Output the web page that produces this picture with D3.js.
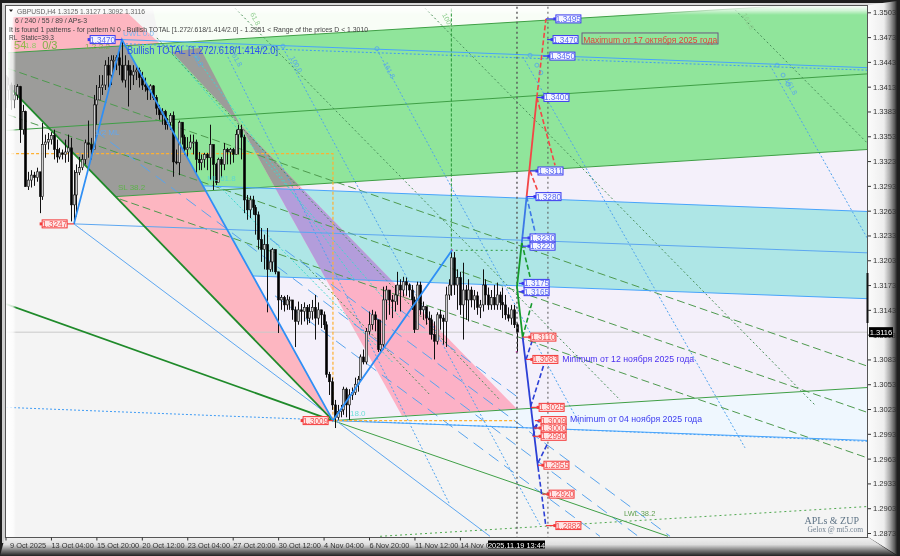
<!DOCTYPE html>
<html><head><meta charset="utf-8">
<style>html,body{margin:0;padding:0;background:#222}svg{display:block;filter:blur(.4px)}text{font-family:"Liberation Sans",Arial,sans-serif}</style>
<script src="https://cdnjs.cloudflare.com/ajax/libs/d3/7.8.5/d3.min.js"></script></head><body>
<svg id="c" width="900" height="556" xmlns="http://www.w3.org/2000/svg"></svg>
<script>
// prices in pips (1/10000), time in H4 bar index
const firstOpen=13425;
const closes=[13409,13415,13397,13403,13413,13361,13383,13292,13300,13306,13303,13310,13280,13343,13346,13349,13354,13337,13328,13333,13331,13334,13339,13270,13282,13309,13315,13325,13345,13343,13337,13391,13397,13412,13415,13439,13427,13445,13445,13448,13439,13421,13439,13433,13427,13431,13433,13424,13415,13413,13409,13414,13400,13387,13379,13383,13367,13370,13378,13322,13321,13370,13352,13337,13339,13346,13346,13325,13321,13325,13331,13327,13343,13319,13297,13325,13319,13337,13334,13337,13331,13355,13361,13352,13276,13264,13276,13267,13258,13228,13216,13222,13192,13201,13216,13189,13155,13158,13149,13155,13155,13143,13129,13143,13141,13146,13133,13141,13146,13133,13143,13137,13125,13065,13056,13028,13013,13020,13022,13047,13028,13040,13043,13053,13059,13086,13080,13117,13125,13137,13131,13095,13101,13155,13167,13155,13153,13161,13173,13167,13177,13173,13167,13155,13119,13173,13143,13147,13133,13131,13113,13105,13137,13133,13129,13161,13173,13206,13173,13182,13149,13167,13155,13167,13155,13160,13146,13149,13173,13161,13149,13158,13149,13161,13152,13149,13137,13133,13143,13125,13116];
const highs=[13427,13424,13418,13415,13416,13414,13391,13384,13310,13312,13310,13315,13310,13369,13355,13357,13358,13361,13349,13339,13337,13349,13355,13351,13312,13319,13328,13331,13349,13372,13351,13403,13415,13427,13427,13445,13449,13451,13451,13451,13458,13470,13451,13445,13439,13439,13439,13436,13431,13424,13415,13416,13415,13403,13391,13387,13385,13375,13381,13383,13337,13372,13370,13355,13352,13355,13355,13349,13334,13331,13333,13333,13367,13343,13321,13327,13328,13345,13339,13339,13339,13361,13367,13367,13355,13282,13281,13281,13270,13262,13242,13234,13242,13216,13218,13216,13189,13161,13160,13161,13159,13152,13147,13153,13150,13152,13149,13150,13155,13161,13152,13143,13141,13129,13068,13061,13034,13028,13028,13050,13049,13047,13049,13061,13063,13089,13095,13121,13141,13143,13141,13125,13131,13171,13172,13161,13161,13173,13189,13180,13183,13182,13175,13173,13159,13177,13177,13153,13146,13141,13137,13129,13140,13143,13137,13171,13180,13215,13213,13192,13189,13200,13173,13180,13171,13167,13165,13155,13192,13180,13170,13167,13173,13176,13165,13170,13161,13146,13149,13149,13127];
const lows=[13387,13397,13385,13387,13397,13345,13355,13292,13288,13291,13293,13298,13260,13276,13327,13337,13343,13325,13321,13325,13325,13321,13322,13250,13247,13256,13306,13312,13319,13327,13325,13343,13367,13397,13403,13409,13412,13415,13431,13433,13427,13418,13412,13389,13409,13415,13421,13412,13409,13407,13397,13397,13397,13379,13373,13367,13361,13361,13361,13304,13319,13306,13343,13331,13328,13337,13331,13309,13312,13312,13315,13312,13300,13288,13294,13312,13303,13312,13319,13319,13321,13331,13331,13325,13260,13252,13254,13258,13234,13216,13201,13192,13140,13189,13189,13186,13115,13143,13141,13143,13143,13131,13098,13125,13125,13129,13125,13127,13131,13107,13125,13121,13119,13061,13040,13022,13000,13010,13013,13016,13013,13010,13034,13040,13044,13056,13077,13077,13113,13119,13117,13092,13092,13095,13131,13137,13133,13141,13149,13141,13159,13160,13158,13143,13115,13129,13137,13131,13125,13113,13107,13083,13101,13119,13101,13098,13155,13160,13161,13143,13137,13107,13131,13129,13146,13143,13137,13133,13141,13149,13143,13143,13143,13143,13143,13133,13131,13129,13125,13121,13092];
const yTickValues=[13503,13473,13443,13413,13383,13353,13323,13293,13263,13233,13203,13173,13143,13113,13083,13053,13023,12993,12963,12933,12903,12873];
const xTickBars=[0,16,32,48,64,80,96,112,128,144,160];
const xTickLabels=["9 Oct 2025","13 Oct 04:00","15 Oct 20:00","20 Oct 12:00","23 Oct 04:00","27 Oct 20:00","30 Oct 12:00","4 Nov 04:00","6 Nov 20:00","11 Nov 12:00","14 Nov 04:00"];
const lastPrice=13116;
const O=[115.3,13009];
// zones
const zonePaleTop=[[54.4,13465],[303.4,13517],[303.4,13540],[50,13540]];
const zoneLavender=[[70.6,13287],[303.4,13337],[303.4,13049],O];
const zonePaleBlue=[O,[303.4,13049],[303.4,12985]];
const zoneGreen=[[0.9,13454],[303.4,13517],[303.4,13337],[38.6,13280],[0.9,13414]];
const zoneTeal=[[69.8,13293],[303.4,13262],[303.4,13156.5],[87.1,13184]];
const zoneFan=[[2.6,13497],[43.1,13502],[54.4,13465],[42.1,13462],O,[0.9,13414]];
const zoneWedgeA=[[58.6,13455],[68.5,13460],[82.6,13367]];
const zoneWedgeB=[[82.6,13367],[139.6,13015],[180.1,13023]];
// lines
const thickGreen=[[[0.9,13414],O],[[0.2,13150],O]];
const thinGreen=[[[0.2,13360],[303.4,13428.5]],[[0.9,13454],[303.4,13517]],[[38.6,13280],[303.4,13337]],[O,[303.4,13049]],[O,[233.3,12869]]];
const blueThin=[[[24.1,13247],[170.6,12869]],[[24.1,13247],[303.4,13212]]];
const blueMid=[[[69.8,13293],[303.4,13262]],[[87.1,13184],[303.4,13156.5]],[[41,13470],[303.4,13436]],[O,[303.4,12985]]];
const blueDotH=[[[41,13465],[303.4,13433]],[[0.2,13025],[303.4,12984]]];
const greenDash=[[[0.9,13435],[303.4,13075]],[[0.9,13379],[303.4,13019]],[[40.3,13277],[303.4,12964]]];
const blueDash=[[[31.5,13360],[222.4,12870]],[[93.1,13229],[234,12869]],[[94.9,13160],[209.3,12869]],[[138.9,13143],[180.1,13038]]];
const cyanDot=[[[58.6,13454],[138.9,13134]],[[66,13454],[123,13179]],[[75.5,13292],[136.5,13079]]];
const greenDot=[[[147.7,13508],[285,13028]],[[256.9,13506],[303.4,13345]],[[80.8,13508],[216.4,13034]],[[53.3,13472],[174.1,13034]],[[103.7,13204],[149.5,13040]]];
const blueDot=[[[97.7,13460],[188.2,12883]],[[78.3,13449],[156.5,12907]],[[130.8,13458],[202.3,13004]],[[182.2,13449],[260.4,12976]],[[269.2,13439],[303.4,13230]]];
const greenDotLow=[[131.9,12869],[303.4,12905]];
const orangeDash=[[0.2,13332],[115.3,13332],O,[179.4,13009]];
const zigzag=[[24.1,13247],[41,13470],O,[157.2,13215]];
const greenDotVert=[[157,13215],[157,13530],[157,13215],[180.1,13215]];
const nowBars=[180.1,191];
const redSolid=[[183.5,13280],[187.1,13400]];
const redDash=[[[187.1,13400],[190.3,13495]],[[187.1,13400],[193.5,13318]],[[184.7,13311],[187.5,13286]]];
const fBlueSolid=[[183.5,13280],[181.8,13224]];
const fBlueDash=[[183.5,13280],[187.1,13228]];
const fGreenSolid=[[181.8,13224],[180.1,13171],[182.1,13110]];
const fGreenDash=[[[181.8,13224],[185.4,13173]],[[182.1,13110],[185.4,13152]]];
const navySolid=[[182.1,13110],[187.5,12953]];
const navyDash=[[[187.5,12953],[190.2,12883]],[[183.3,13083],[185.4,13105]],[[184.9,13026],[189.6,13077]],[[187.5,12958],[191,12982]],[[185.7,12990],[187.8,13010]],[[186,13000],[188,13008]]];
// price labels: value, box-left bar, stub-end bar, colour key
const labelValues=[13495,13470,13450,13400,13311,13280,13230,13220,13175,13165,13110,13083,13025,13009,13000,12990,12955,12920,12882,13470,13247,13009];
const labelBars=[193.8,192.8,191.7,189.6,187.5,186.8,184.7,184.7,182.6,182.6,185,185.7,187.9,188.6,188.6,188.6,189.6,191.4,193.8,29.8,12.9,104.8];
const labelStubs=[190.3,190.7,189.3,187.1,184.7,183.5,181.9,181.9,180.8,180.8,182.1,183.3,185,186.4,186,185.7,187.5,189,190.3,41,24.1,115.3];
const labelKinds=["b","b","b","b","b","b","b","b","b","b","r","r","r","r","r","r","r","r","r","b","r","r"];
const labelText=["1.3495","1.3470","1.3450","1.3400","1.3311","1.3280","1.3230","1.3220","1.3175","1.3165","1.3110","1.3083","1.3025","1.3009","1.3000","1.2990","1.2955","1.2920","1.2882","1.3470","1.3247","1.3009"];
const fibText=["61.8","100.0","161.8","100.0","161.8","61.8","38.2","161.8"];
const fibBars=[86.1,153.7,259.3,100.2,132.9,79.7,66,274.5];
const fibPips=[13501,13500,13500,13448,13441,13451,13451,13421];
const fibGreen=[1,1,1,0,0,0,0,0];
const ringBars=[97.7,130.8,184.7,187.1,188.5,271.7,273.8,275.5];
const ringPips=[13462,13459,13451,13439,13430,13439,13427,13416];
const noteText=["1/2 ML","SL 38.2","UWL 0.0","LWL 38.2","18.0","ML 61.8","54","0/3","1.2-2.2","1.8"];
const noteBars=[31.5,39.6,41.4,217.8,121.3,71,3,12.9,28,6.9];
const notePips=[13354,13288,13474,12894,13014,13299,13458,13458,13458,13460];
const noteColors=["#63a8f0","#5db24a","#7fb6f0","#5f9f50","#6fe0d8","#5fd8d0","#93b84a","#7fb04a","#7fb04a","#93c86a"];
const noteSizes=[8,8,8,7.5,8,8,11,11,8,8];

const svg=d3.select("#c");
const x=d3.scaleLinear().domain([0,303.35]).range([5.5,867]);
const y=d3.scaleLinear().domain([13503,12873]).range([12.3,533]);
const line=d3.line().x(d=>x(d[0])).y(d=>y(d[1]));
const defs=svg.append("defs");
function grad(id,x2,y2,stops){const g=defs.append("linearGradient").attr("id",id).attr("x1",0).attr("y1",0).attr("x2",x2).attr("y2",y2);
 stops.forEach(s=>g.append("stop").attr("offset",s[0]).attr("stop-color",s[1]).attr("stop-opacity",s[2]==null?1:s[2]));}
grad("gr",1,0,[[0,"#fbfbfb"],[.55,"#eeeeee"],[.75,"#aaa"],[.92,"#5a5a5a"],[1,"#222"]]);
grad("gb",0,1,[[0,"#f2f2f2"],[.4,"#dedede"],[.72,"#777"],[1,"#222"]]);
grad("gl",1,0,[[0,"#fff",.95],[.7,"#fff",.75],[1,"#fff",0]]);
grad("gt",0,1,[[0,"#fff",.95],[.5,"#fff",.6],[1,"#fff",0]]);
defs.append("clipPath").attr("id","plot").append("rect").attr("x",6).attr("y",6).attr("width",861).attr("height",531);
const cp=(id,pts)=>defs.append("clipPath").attr("id",id).append("path").attr("d",line(pts)+"Z");
cp("cFan",zoneFan);cp("cWA",zoneWedgeA);cp("cWB",zoneWedgeB);

// frame
svg.append("rect").attr("width",900).attr("height",556).attr("fill","#1e1e1e");
svg.append("rect").attr("x",2).attr("y",3).attr("width",4).attr("height",540).attr("fill","#cfcfcf");
svg.append("rect").attr("x",2).attr("y",3).attr("width",890).attr("height",2.5).attr("fill","#d8d8d8");
svg.append("path").attr("d","M868 5L897 1L897 555L868 537Z").attr("fill","url(#gr)");
svg.append("path").attr("d","M5 537L868 537L897 556L0 556Z").attr("fill","url(#gb)");
svg.append("rect").attr("x",6).attr("y",6).attr("width",861).attr("height",531).attr("fill","#f4f4f4");

const plot=svg.append("g").attr("clip-path","url(#plot)");
const fill=(pts,c,clip)=>{const p=plot.append("path").attr("d",line(pts)+"Z").attr("fill",c);if(clip)p.attr("clip-path",`url(#${clip})`);return p;};
fill(zonePaleTop,"#f8fdf6");
fill(zoneLavender,"#f4f0fa");
fill(zonePaleBlue,"#eff7fe");
fill(zoneGreen,"#90e59b");
fill(zoneTeal,"#aee6e6");
fill(zoneFan,"#fdb6c1");
fill(zoneGreen,"#9c9c9a","cFan");
fill(zoneWedgeA,"#9c9c9a");
fill(zoneWedgeB,"#fcb1c6");
fill(zoneGreen,"#9c9c9a","cWB");
fill(zoneTeal,"#b39ddb","cWB");

const stroke=(segs,c,w,dash,op)=>segs.forEach(s=>{const p=plot.append("path").attr("d",line(s)).attr("fill","none").attr("stroke",c).attr("stroke-width",w);
 if(dash)p.attr("stroke-dasharray",dash);if(op)p.attr("stroke-opacity",op);});

// price line, fib + pitchfork lines
stroke([[[0,lastPrice],[303.4,lastPrice]]],"#c9c9c9",1);
stroke(cyanDot,"#3fd8d0",1,"2,2");
stroke(blueDot,"#4fa3ee",1,"2,2");
stroke(greenDot,"#4a8f5a",1,"2,2.5");
stroke(greenDash,"#4e9a4e",1,"8,4");
stroke(blueDash,"#58a4ee",1,"12,7");
stroke(thinGreen,"#3f9f46",1);
stroke(blueDotH,"#3f9cf4",1,"2,2");
stroke(blueThin,"#5ca6f0",1);
stroke(blueMid,"#48a4fb",1);
stroke([greenDotLow],"#4fa84f",1,"2,3");
stroke([orangeDash],"#ffb030",1.2,"3,2");
stroke([greenDotVert],"#2f9a3f",1,"2,3");
stroke(thickGreen,"#1f8a2a",1.8);

// candles
const barW=2.2;
const cg=plot.append("g");
closes.forEach((c,i)=>{
 const op=i?closes[i-1]:firstOpen,up=c>=op,cx=Math.round(x(i))+.5;
 cg.append("line").attr("x1",cx).attr("x2",cx).attr("y1",y(highs[i])).attr("y2",y(lows[i])).attr("stroke","#111").attr("stroke-width",1);
 const top=y(Math.max(c,op)),h=Math.max(1,Math.abs(y(c)-y(op)));
 cg.append("rect").attr("x",cx-barW/2).attr("y",top).attr("width",barW).attr("height",h)
   .attr("fill",up?"#cfcfcf":"#000").attr("stroke","#111").attr("stroke-width",.6);
});
plot.append("circle").attr("cx",x(180)).attr("cy",y(13092)).attr("r",1).attr("fill","#e040c0");
plot.append("circle").attr("cx",x(157.2)).attr("cy",y(13215)).attr("r",1).attr("fill","#e040c0");

// inner fades sit over the chart but under its annotations
plot.append("rect").attr("x",6).attr("y",6).attr("width",10).attr("height",531).attr("fill","url(#gl)");
plot.append("rect").attr("x",6).attr("y",6).attr("width",861).attr("height",9).attr("fill","url(#gt)");

// pattern
stroke([zigzag],"#2f8ff5",1.8);
// vertical markers
stroke([[[nowBars[0],12860],[nowBars[0],13540]]],"#555",1.4,"2,3");
stroke([[[nowBars[1],12860],[nowBars[1],13540]]],"#555",1,"2,3");
// forecast
stroke([redSolid],"#f24646",1.8);
stroke(redDash,"#f24646",1.6,"5,2.5");
stroke([fBlueSolid],"#3c78e6",1.8);
stroke([fBlueDash],"#3c78e6",1.6,"5,2.5");
stroke([fGreenSolid],"#159a2c",1.8);
stroke(fGreenDash,"#159a2c",1.6,"5,2.5");
stroke([navySolid],"#2b3fd6",1.8);
stroke(navyDash,"#2b3fd6",1.6,"5,2.5");

// rings, fib texts
ringBars.forEach((b,i)=>plot.append("circle").attr("cx",x(b)).attr("cy",y(ringPips[i])).attr("r",2).attr("fill","none").attr("stroke","#52a5ee").attr("stroke-width",.8));
fibText.forEach((t,i)=>plot.append("text").attr("transform",`translate(${x(fibBars[i])},${y(fibPips[i])}) rotate(62)`).attr("font-size",7).attr("fill",fibGreen[i]?"#8fce8f":"#58a8ec").text(t));
noteText.forEach((t,i)=>plot.append("text").attr("x",x(noteBars[i])).attr("y",y(notePips[i])).attr("font-size",noteSizes[i]).attr("fill",noteColors[i]).text(t));

// price labels
const kind={b:{s:"#3a3af0",f:"#f4f4ff",t:"#5a6af2"},r:{s:"#f43a3a",f:"#ffe4e4",t:"#f25252"}};
labelValues.forEach((v,i)=>{const k=kind[labelKinds[i]],bx=x(labelBars[i]),by=y(v);
 plot.append("line").attr("x1",x(labelStubs[i])).attr("x2",bx).attr("y1",by).attr("y2",by).attr("stroke",k.s).attr("stroke-width",1.2);
 plot.append("rect").attr("x",bx-2.5).attr("y",by-1.5).attr("width",3).attr("height",3).attr("fill",k.s);
 plot.append("rect").attr("x",bx).attr("y",by-4).attr("width",25).attr("height",8).attr("fill",k.f).attr("stroke",k.s).attr("stroke-width",1);
 plot.append("text").attr("x",bx+12.5).attr("y",by+3).attr("text-anchor","middle").attr("font-size",8.2).attr("fill",k.t).text(labelText[i]);});

// annotations
const t=(txt,bx,py,size,col,len)=>{const e=plot.append("text").attr("x",x(bx)).attr("y",y(py)).attr("font-size",size).attr("fill",col).text(txt);
 if(len)e.attr("textLength",len).attr("lengthAdjust","spacingAndGlyphs");return e;};
plot.append("rect").attr("x",x(203)).attr("y",y(13478)).attr("width",136).attr("height",11).attr("fill","none").attr("stroke","#6a5a80").attr("stroke-width",1);
t("Maximum от 17 октября 2025 года",203.4,13466,9.5,"#e63c3c",134);
t("Minimum от 12 ноября 2025 года",196,13080,9.5,"#4a30f0",132);
t("Minimum от 04 ноября 2025 года",198.8,13007,9.5,"#3c3cf0",132);
t("Bullish TOTAL [1.272/.618/1.414/2.0]",42.8,13452,11,"#2a50ee",151);

// header texts
const hdr=(txt,px,py,len,size,col)=>svg.append("text").attr("x",px).attr("y",py).attr("font-size",size||7.5).attr("fill",col||"#444").attr("textLength",len).attr("lengthAdjust","spacingAndGlyphs").text(txt);
svg.append("path").attr("d","M9 9.5L13 9.5L11 12Z").attr("fill","#222");
hdr("GBPUSD,H4  1.3125 1.3127 1.3092 1.3116",17,14,128,7.5,"#666");
hdr("6 / 240 / 55 / 89 / APs-3",15,23,72);
hdr("It is found 1 patterns  -  for pattern N 0 - Bullish TOTAL [1.272/.618/1.414/2.0] - 1.2951 < Range of the prices D < 1.3010",9,32,359);
hdr("RL_Static=39.3",9,40,45);

// watermark
svg.append("text").attr("x",859).attr("y",524).attr("text-anchor","end").attr("font-size",10).attr("fill","#5f7486").attr("style","font-family:'Liberation Serif'").text("APLs & ZUP");
svg.append("text").attr("x",863).attr("y",532).attr("text-anchor","end").attr("font-size",7.5).attr("fill","#6f7f8f").attr("style","font-family:'Liberation Serif'").text("Gelox @ mt5.com");

// plot border
svg.append("rect").attr("x",5.5).attr("y",5.5).attr("width",862).attr("height",532).attr("fill","none").attr("stroke","#555").attr("stroke-width",1);
svg.append("rect").attr("x",866.5).attr("y",273).attr("width",2).attr("height",50).attr("fill","#111");

// axes through d3
const yAxis=d3.axisRight(y).tickValues(yTickValues).tickSize(3).tickPadding(2).tickFormat(d=>(d/10000).toFixed(4));
const ya=svg.append("g").attr("transform","translate(868,0)").call(yAxis);
ya.select(".domain").remove();
ya.selectAll("line").attr("stroke","#333");
ya.selectAll("text").attr("font-size",7.6).attr("fill","#333").attr("style","font-family:'Liberation Sans'");
const xa=svg.append("g").attr("transform","translate(0,537.5)").call(d3.axisBottom(x).tickValues(xTickBars).tickSize(3).tickFormat((d,i)=>xTickLabels[i]));
xa.select(".domain").remove();
xa.selectAll("line").attr("stroke","#333");
xa.selectAll("text").attr("text-anchor","start").attr("x",d=>d===0?4:0).attr("dy",0).attr("y",10).attr("font-size",7.4).attr("fill","#333").attr("style","font-family:'Liberation Sans'");

// last price + cursor time boxes
svg.append("rect").attr("x",869).attr("y",y(lastPrice)-5).attr("width",24).attr("height",10).attr("fill","#000");
svg.append("text").attr("x",881).attr("y",y(lastPrice)+3).attr("text-anchor","middle").attr("font-size",7.6).attr("fill","#fff").text((lastPrice/10000).toFixed(4));
svg.append("rect").attr("x",488).attr("y",540.5).attr("width",57).attr("height",8).attr("fill","#000");
svg.append("text").attr("x",516.5).attr("y",547.5).attr("text-anchor","middle").attr("font-size",7.4).attr("fill","#fff").text("2025.11.19 13:44");
</script></body></html>
